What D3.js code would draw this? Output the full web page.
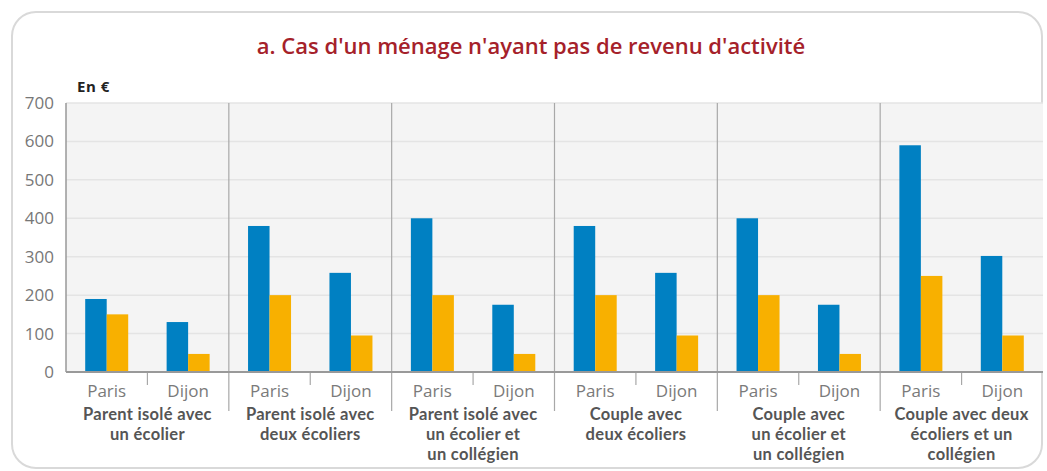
<!DOCTYPE html>
<html>
<head>
<meta charset="utf-8">
<script src="https://cdn.jsdelivr.net/npm/d3@7"></script>
<style>
  body { margin: 0; background: #fff; }
  svg { display: block; font-family: "Open Sans", sans-serif; }
</style>
</head>
<body>
<div id="chart"></div>
<script>
// data
var groups = [
  ["Parent isolé avec", "un écolier"],
  ["Parent isolé avec", "deux écoliers"],
  ["Parent isolé avec", "un écolier et", "un collégien"],
  ["Couple avec", "deux écoliers"],
  ["Couple avec", "un écolier et", "un collégien"],
  ["Couple avec deux", "écoliers et un", "collégien"]
];
var cities = ["Paris", "Dijon"];
// blue series then orange series, per group: [Paris, Dijon]
var blueVals = [[190, 130], [380, 258], [400, 175], [380, 258], [400, 175], [590, 302]];
var orangeVals = [[150, 47], [200, 95], [200, 47], [200, 95], [200, 47], [250, 95]];
var yTicks = [0, 100, 200, 300, 400, 500, 600, 700];

var W = 1047, H = 471;
var pLeft = 66, pRight = 1043, pTop = 103, pBottom = 372;

var svg = d3.select("#chart").append("svg").attr("width", W).attr("height", H);

// card frame
svg.append("rect")
  .attr("x", 12).attr("y", 12).attr("width", 1030).attr("height", 456)
  .attr("rx", 24)
  .attr("fill", "#fff").attr("stroke", "#d9d9d9").attr("stroke-width", 2);

svg.append("text")
  .attr("x", 531).attr("y", 54)
  .attr("text-anchor", "middle")
  .attr("fill", "#a5212a")
  .attr("font-size", "22px").attr("font-weight", 600)
  .text("a. Cas d'un ménage n'ayant pas de revenu d'activité");

svg.append("text")
  .attr("x", 77).attr("y", 92)
  .attr("fill", "#222").attr("font-size", "15px").attr("font-weight", 700)
  .attr("letter-spacing", "0.5px")
  .text("En €");

var x0 = d3.scaleBand().domain(d3.range(groups.length)).range([pLeft, pRight]);
var x1 = d3.scaleBand().domain(cities).range([0, x0.bandwidth()]);
var x2 = d3.scaleBand().domain(["blue", "orange"]).range([0, 43]);
var y = d3.scaleLinear().domain([0, 700]).range([pBottom, pTop]);

// plot background
svg.append("rect")
  .attr("x", pLeft).attr("y", pTop)
  .attr("width", pRight - pLeft).attr("height", pBottom - pTop)
  .attr("fill", "#f4f4f4");

// gridlines
svg.append("g").selectAll("line")
  .data(yTicks.slice(1))
  .enter().append("line")
  .attr("x1", pLeft).attr("x2", pRight)
  .attr("y1", function(d) { return y(d); })
  .attr("y2", function(d) { return y(d); })
  .attr("stroke", "#e4e4e4").attr("stroke-width", 1.5);

// y axis
var yAxis = svg.append("g")
  .attr("transform", "translate(" + pLeft + ",0)")
  .call(d3.axisLeft(y).tickValues(yTicks).tickSize(0).tickPadding(12));
yAxis.select(".domain").remove();
yAxis.selectAll("text")
  .attr("fill", "#777").attr("font-size", "17px")
  .attr("font-family", "Open Sans, sans-serif");

// bars
var colors = { blue: "#0080c2", orange: "#f8b000" };
groups.forEach(function(g, i) {
  cities.forEach(function(c, j) {
    var cx = x0(i) + x1(c) + x1.bandwidth() / 2 - 21.5;
    [["blue", blueVals[i][j]], ["orange", orangeVals[i][j]]].forEach(function(s) {
      svg.append("rect")
        .attr("x", cx + x2(s[0]))
        .attr("y", y(s[1]))
        .attr("width", x2.bandwidth())
        .attr("height", y(0) - y(s[1]))
        .attr("fill", colors[s[0]]);
    });
  });
});

// group dividers
svg.append("g").selectAll("line")
  .data(d3.range(1, groups.length))
  .enter().append("line")
  .attr("x1", function(d) { return x0(d); })
  .attr("x2", function(d) { return x0(d); })
  .attr("y1", pTop).attr("y2", 411)
  .attr("stroke", "#a8a8a8").attr("stroke-width", 1.2);

// mid ticks
svg.append("g").selectAll("line")
  .data(d3.range(groups.length))
  .enter().append("line")
  .attr("x1", function(d) { return x0(d) + x1.bandwidth(); })
  .attr("x2", function(d) { return x0(d) + x1.bandwidth(); })
  .attr("y1", pBottom).attr("y2", 385)
  .attr("stroke", "#a8a8a8").attr("stroke-width", 1.2);

// axis lines
svg.append("line")
  .attr("x1", pLeft).attr("x2", pLeft).attr("y1", pTop).attr("y2", pBottom)
  .attr("stroke", "#999").attr("stroke-width", 1.5);
svg.append("line")
  .attr("x1", pLeft).attr("x2", pRight).attr("y1", pBottom).attr("y2", pBottom)
  .attr("stroke", "#999").attr("stroke-width", 1.8);

// city labels
groups.forEach(function(g, i) {
  cities.forEach(function(c) {
    svg.append("text")
      .attr("x", x0(i) + x1(c) + x1.bandwidth() / 2)
      .attr("y", 397)
      .attr("text-anchor", "middle")
      .attr("fill", "#7a7a7a").attr("font-size", "17px")
      .text(c);
  });
  g.forEach(function(line, k) {
    svg.append("text")
      .attr("x", x0(i) + x0.bandwidth() / 2)
      .attr("y", 420 + k * 20)
      .attr("text-anchor", "middle")
      .attr("fill", "#555").attr("font-family", "Lato, sans-serif")
      .attr("font-size", "16.5px").attr("font-weight", 700)
      .attr("letter-spacing", "0.3px")
      .text(line);
  });
});
</script>
</body>
</html>
